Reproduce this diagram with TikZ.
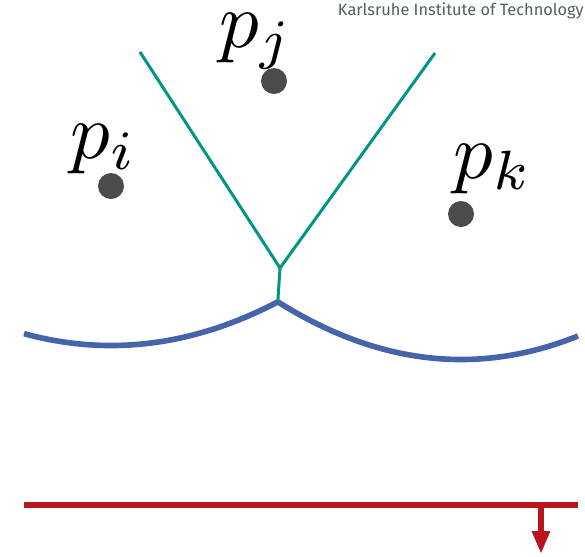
\documentclass[tikz,border=0pt]{standalone}
\usepackage{graphicx}
\usepackage{fontspec}
\setsansfont{Fira Sans}
\usetikzlibrary{arrows.meta}
\definecolor{kitgreen}{RGB}{0,150,130}
\definecolor{kitblue}{RGB}{70,100,170}
\definecolor{kitred}{RGB}{185,22,28}
\definecolor{dotgray}{RGB}{75,75,75}
\definecolor{logogray}{RGB}{80,95,100}
\newcommand{\biglabel}[1]{\scalebox{4.5}{$#1$}}
\tikzset{
  site/.style={circle,fill=dotgray,minimum size=26*0.02cm,inner sep=0pt},
  sitelabel/.style={anchor=base west,inner sep=0pt},
  edge/.style={kitgreen,line width=1.7pt},
  beach/.style={kitblue,line width=3.2pt},
  sweep/.style={kitred,line width=3.4pt},
}
\begin{document}
\begin{tikzpicture}[x=0.02cm,y=-0.02cm]
\useasboundingbox (0,0) rectangle (585,556);
\node[anchor=north east,inner sep=0pt,font=\sffamily\fontsize{9.3}{11}\selectfont,text=logogray] (logo) at (584,2) {Karlsruhe Institute of Technology};
% sites
\node[site] (pi) at (111,186) {};
\node[site] (pj) at (274,81) {};
\node[site] (pk) at (461,214) {};
\node[sitelabel] (li) at (70,158) {\biglabel{p_i}};
\node[sitelabel] (lj) at (219,47) {\biglabel{p_j}};
\node[sitelabel] (lk) at (453,178) {\biglabel{p_k}};
% voronoi edges
\coordinate (v) at (280,268);
\coordinate (e1) at (140,52);
\coordinate (e2) at (435,53);
\coordinate (b) at (277.8,301.9);
\draw[edge] (e1) -- (v) -- (e2);
\draw[edge] (v) -- (b);
% beach line
\draw[beach] plot[domain=24:277.8,samples=80] (\x,{345.5-((\x-111)/25.259)^2});
\draw[beach] plot[domain=277.8:578,samples=80] (\x,{359.5-((\x-461)/24.125)^2});
% sweep line
\coordinate (s1) at (24,505);
\coordinate (s2) at (578,505);
\coordinate (a1) at (541,505);
\coordinate (a2) at (541,554);
\draw[sweep] (s1) -- (s2);
\draw[sweep,-{Triangle[width=0.34cm,length=0.46cm]}] (a1) -- (a2);
\end{tikzpicture}
\end{document}
